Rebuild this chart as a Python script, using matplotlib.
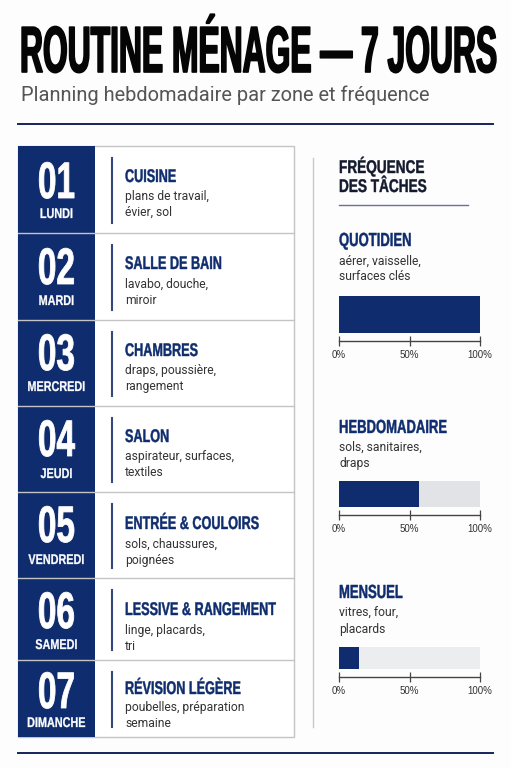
import matplotlib
matplotlib.use('Agg')
import matplotlib.pyplot as plt
from matplotlib.patches import Rectangle
from matplotlib.patheffects import AbstractPathEffect
from matplotlib.transforms import Affine2D

NAVY = '#0f2d6e'
INK = '#333333'
NARROW = ['Liberation Sans Narrow', 'Liberation Sans', 'DejaVu Sans']

# contenu
day_numbers = ['01', '02', '03', '04', '05', '06', '07']
day_names = ['LUNDI', 'MARDI', 'MERCREDI', 'JEUDI', 'VENDREDI', 'SAMEDI', 'DIMANCHE']
zones = ['CUISINE', 'SALLE DE BAIN', 'CHAMBRES', 'SALON', 'ENTRÉE & COULOIRS',
         'LESSIVE & RANGEMENT', 'RÉVISION LÉGÈRE']
zone_tasks = [['plans de travail,', 'évier, sol'], ['lavabo, douche,', 'miroir'],
              ['draps, poussière,', 'rangement'], ['aspirateur, surfaces,', 'textiles'],
              ['sols, chaussures,', 'poignées'], ['linge, placards,', 'tri'],
              ['poubelles, préparation', 'semaine']]
freq_names = ['QUOTIDIEN', 'HEBDOMADAIRE', 'MENSUEL']
freq_tasks = [['aérer, vaisselle,', 'surfaces clés'], ['sols, sanitaires,', 'draps'],
              ['vitres, four,', 'placards']]
freq_values = [100, 57, 14]
freq_ticks = [0, 50, 100]

# mise en page (pixels)
row_edges = [146, 233, 320, 406, 492, 578, 660, 737]
number_base = [198, 284, 370, 456, 542, 628, 708]
name_base = [218, 305, 391, 478, 564, 649, 727]
zone_base = [182, 269, 356, 442, 529, 615, 694]
task_base = [[200, 216], [288, 304], [374, 390], [460, 476], [548, 564], [634, 650], [711, 727]]
freq_head_base = [246, 433, 598]
freq_task_base = [[265, 280], [451, 467], [617, 633]]
bar_boxes = [(296, 333), (481, 507), (647, 669)]
track_colors = ['#e2e3e6', '#e2e3e6', '#ecedee']


class Stretch(AbstractPathEffect):
    # etire le texte en hauteur depuis la ligne de base, et l'epaissit un peu
    def __init__(self, sy=1.0, stroke=0.0):
        super().__init__()
        self.sy = sy
        self.stroke = stroke

    def draw_path(self, renderer, gc, tpath, affine, rgbFace=None):
        gc0 = renderer.new_gc()
        gc0.copy_properties(gc)
        if self.stroke > 0:
            gc0.set_foreground(rgbFace)
            gc0.set_linewidth(self.stroke)
        renderer.draw_path(gc0, tpath, Affine2D().scale(1, self.sy) + affine, rgbFace)
        gc0.restore()


def narrow(x, y, s, size, sy=1.0, color=NAVY, ha='left', stroke=0.0):
    ax.text(x, y, s, fontsize=size, family=NARROW, weight='bold', color=color, ha=ha,
            va='baseline', path_effects=[Stretch(sy, stroke)])


fig = plt.figure(figsize=(5.11, 7.68), dpi=100, facecolor='#fdfdfd')
ax = fig.add_axes([0, 0, 1, 1])
ax.set_xlim(0, 511)
ax.set_ylim(768, 0)
ax.axis('off')

# titre
narrow(20, 72, 'ROUTINE MÉNAGE — 7 JOURS', 22.9, sy=2.05, color='#050505', stroke=1.2)
ax.text(21, 101, 'Planning hebdomadaire par zone et fréquence', fontsize=14.45,
        family='Roboto', color='#555555', va='baseline')
ax.plot([18, 493], [123.5, 123.5], color='#14245c', lw=1.4)
ax.plot([18, 493], [752.5, 752.5], color='#14245c', lw=1.4)

# tableau des jours
ax.add_patch(Rectangle((18, 146), 276, 591, fc='white', ec='#c4c4c4', lw=1.0))
ax.add_patch(Rectangle((18, 146), 77, 591, fc=NAVY, ec='none'))
for i in range(7):
    top, bottom = row_edges[i], row_edges[i + 1]
    if i > 0:
        ax.plot([18, 294], [top, top], color='#c4c4c4', lw=1.0)
    narrow(56.5, number_base[i], day_numbers[i], 24, sy=1.54, color='white', ha='center', stroke=0.6)
    narrow(56.5, name_base[i], day_names[i], 7.8, sy=1.3, color='white', ha='center', stroke=0.2)
    ax.plot([112, 112], [top + 12, bottom - 10], color='#34487f', lw=1.5)
    narrow(125, zone_base[i], zones[i], 9.1, sy=1.45, stroke=0.3)
    for line, yb in zip(zone_tasks[i], task_base[i]):
        ax.text(125, yb, line, fontsize=8.75, family='Roboto', color=INK, va='baseline')

# panneau frequence
ax.plot([313, 313], [158, 727], color='#c9c9c9', lw=1.0)
narrow(339, 173, 'FRÉQUENCE', 9.8, sy=1.35, color='#141a2e', stroke=0.3)
narrow(339, 192, 'DES TÂCHES', 9.8, sy=1.35, color='#141a2e', stroke=0.3)
ax.plot([339, 468], [204.5, 204.5], color='#6b7392', lw=1.0)

for i in range(3):
    narrow(339, freq_head_base[i], freq_names[i], 9.4, sy=1.45, stroke=0.3)
    for line, yb in zip(freq_tasks[i], freq_task_base[i]):
        ax.text(339, yb, line, fontsize=8.75, family='Roboto', color=INK, va='baseline')
    top, bottom = bar_boxes[i]
    bar_ax = fig.add_axes([339 / 511, 1 - bottom / 768, 141 / 511, (bottom - top) / 768])
    bar_ax.barh([0], [100], height=1, color=track_colors[i])
    bar_ax.barh([0], [freq_values[i]], height=1, color=NAVY)
    bar_ax.set_xlim(0, 100)
    bar_ax.set_ylim(-0.5, 0.5)
    bar_ax.set_yticks([])
    bar_ax.set_xticks(freq_ticks)
    bar_ax.set_xticklabels([f'{t}%' for t in freq_ticks])
    bar_ax.patch.set_alpha(0)
    for side in ['top', 'left', 'right']:
        bar_ax.spines[side].set_visible(False)
    bar_ax.spines['bottom'].set_position(('outward', 5.8))
    bar_ax.spines['bottom'].set_color('#444444')
    bar_ax.spines['bottom'].set_linewidth(1.0)
    bar_ax.tick_params(axis='x', direction='inout', length=6.5, width=0.9, color='#444444', pad=3.5)
    for lab in bar_ax.get_xticklabels():
        lab.set_fontfamily(NARROW)
        lab.set_fontsize(7.0)
        lab.set_color(INK)

fig.savefig('out.png', dpi=100, facecolor=fig.get_facecolor())
